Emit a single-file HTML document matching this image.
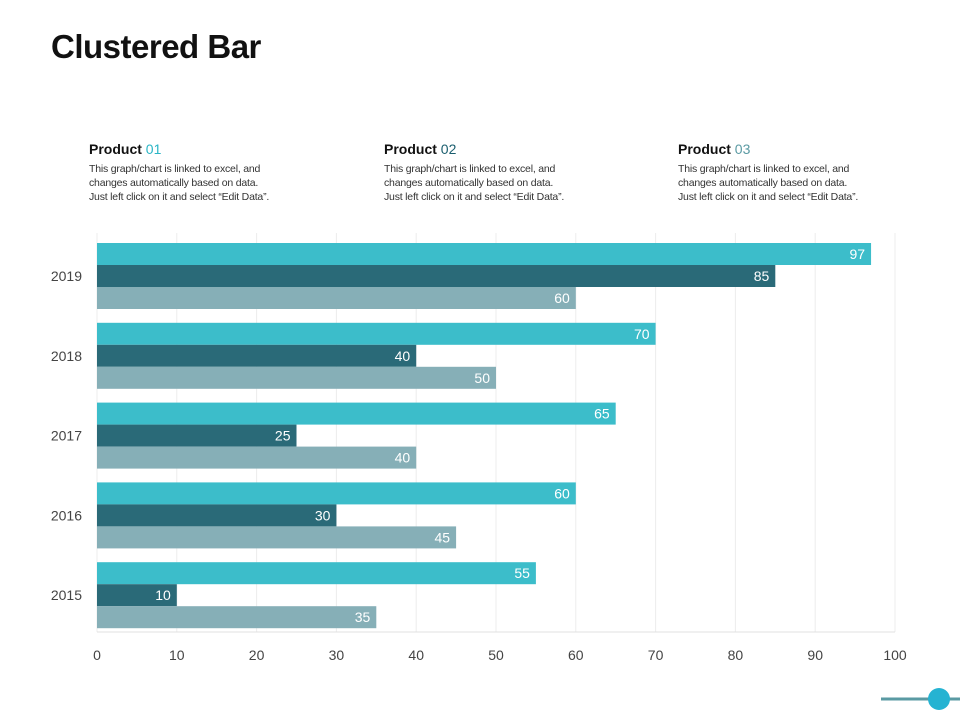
<!DOCTYPE html>
<html><head><meta charset="utf-8"><style>
body{margin:0;width:960px;height:720px;background:#fff;font-family:"Liberation Sans",sans-serif;position:relative;overflow:hidden}
h1{position:absolute;left:51px;top:28px;margin:0;font-size:33px;font-weight:bold;color:#111;letter-spacing:-0.5px}
.prod{position:absolute;top:141px;width:260px}
.prod h2{margin:0;font-size:14px;font-weight:bold;color:#111}
.prod h2 span{color:#2ab5c5;font-weight:normal}
.prod p{margin:5px 0 0;font-size:10.5px;line-height:14px;color:#333;letter-spacing:-0.2px;white-space:nowrap}
</style></head><body>
<h1>Clustered Bar</h1>
<div class="prod" style="left:89px"><h2>Product <span>01</span></h2><p>This graph/chart is linked to excel, and<br>changes automatically based on data.<br>Just left click on it and select “Edit Data”.</p></div>
<div class="prod" style="left:384px"><h2>Product <span style="color:#1a5e6e">02</span></h2><p>This graph/chart is linked to excel, and<br>changes automatically based on data.<br>Just left click on it and select “Edit Data”.</p></div>
<div class="prod" style="left:678px"><h2>Product <span style="color:#5a9aa3">03</span></h2><p>This graph/chart is linked to excel, and<br>changes automatically based on data.<br>Just left click on it and select “Edit Data”.</p></div>
<svg id="chart" width="960" height="720" style="position:absolute;left:0;top:0">
<line x1="881" y1="699" x2="960" y2="699" stroke="#5a9aa3" stroke-width="3"/>
<circle cx="939" cy="699" r="11" fill="#25b3d2"/>
</svg>
<script>
const categories=["2015","2016","2017","2018","2019"];
const product1=[55,60,65,70,97];
const product2=[10,30,25,40,85];
const product3=[35,45,40,50,60];
const ticks=[0,10,20,30,40,50,60,70,80,90,100];
const svg=document.getElementById('chart');
const NS='http://www.w3.org/2000/svg';
const x0=97,x1=895,yTop=233,yBot=632;
const xs=v=>x0+(v/100)*(x1-x0);
const band=(yBot-yTop)/categories.length;
const bandTop=i=>yTop+(categories.length-1-i)*band;
const g=document.createElementNS(NS,'g');svg.appendChild(g);
function add(t,a,txt){const e=document.createElementNS(NS,t);for(const k in a)e.setAttribute(k,a[k]);if(txt!==undefined)e.textContent=txt;g.appendChild(e);return e;}
ticks.forEach(t=>{
 const l=add('line',{x1:xs(t),x2:xs(t),y1:yTop,y2:yBot,stroke:'#ececec','stroke-width':1});
 
 
 const tx=add('text',{x:xs(t),y:660,'text-anchor':'middle','font-size':14,fill:'#444'},String(t));
 
 
});
const ax=add('line',{x1:x0,x2:x1,y1:yBot,y2:yBot,stroke:'#e0e0e0'});


const series=[[product1,'#3cbdca','product-01'],[product2,'#2a6a78','product-02'],[product3,'#86afb7','product-03']];
const bh=22;
categories.forEach((c,i)=>{
 const bt=bandTop(i);
 const lb=add('text',{x:82,y:bt+43+5,'text-anchor':'end','font-size':14,fill:'#444'},c);
 
 
 series.forEach((s,j)=>{
  const v=s[0][i];const y=bt+10+j*bh;
  const r=add('rect',{x:x0,y:y,width:xs(v)-x0,height:bh,fill:s[1]});
  
  
  const t=add('text',{x:xs(v)-6,y:y+16,'text-anchor':'end','font-size':14,fill:'#fff'},String(v));
  
  
 });
});
</script>
</body></html>
